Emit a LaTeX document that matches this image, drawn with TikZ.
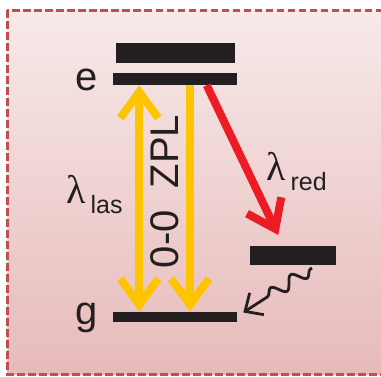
\documentclass[tikz,border=0pt]{standalone}
\usepackage{fontspec}
\setmainfont{Liberation Sans}
\newfontfamily\lamfont{Liberation Serif}
\usetikzlibrary{arrows.meta,decorations.pathmorphing}

\definecolor{bgtop}{RGB}{247,234,233}
\definecolor{bgbot}{RGB}{231,186,186}
\definecolor{framecol}{RGB}{192,80,77}
\definecolor{barink}{RGB}{35,31,32}
\definecolor{ylw}{RGB}{255,196,0}
\definecolor{rd}{RGB}{236,28,36}

\tikzset{
  bar/.style={fill=barink, draw=none, inner sep=0pt},
  big/.style={font=\fontsize{40}{48}\selectfont, inner sep=0pt, text=barink},
  chev/.tip={Straight Barb[length=26pt, width=38pt]},
  beam/.style={line width=8pt},
  panel/.style={draw=framecol, line width=3pt, dash pattern=on 7.5pt off 3.5pt},
  wavy/.style={line width=2.8pt, barink,
    decorate, decoration={snake, amplitude=6pt, segment length=24pt, pre length=2pt, post length=20pt}},
}

\begin{document}
\begin{tikzpicture}[x=1pt, y=-1pt]
\useasboundingbox (0,0) rectangle (381,376);

% background panel with dashed frame
\shade[top color=bgtop, bottom color=bgbot] (7,10) rectangle (392,374);
\draw[panel] (7,10) rectangle (392,374);

% energy levels
\node[bar, minimum width=119.6pt, minimum height=19.4pt] (top) at (175.5,53) {};
\node[bar, minimum width=124pt, minimum height=11.7pt] (e) at (175.3,79.2) {};
\node[bar, minimum width=124pt, minimum height=10pt] (g) at (175.3,316.7) {};
\node[bar, minimum width=85.7pt, minimum height=19.3pt] (side) at (292.9,255.4) {};

% level labels
\node[big, anchor=base] (elab) at (87,90) {e};
\node[big, anchor=base] (glab) at (87,324) {g};

% column positions of the transitions
\coordinate (lx) at (139.3,0);
\coordinate (rx) at (190,0);
\coordinate (redx) at (206.7,0);
\coordinate (redtip) at (278.3,235);
\coordinate (wstart) at (312,268);
\coordinate (wtip) at (243.3,312.5);

% laser excitation and zero-phonon line
\draw[beam, ylw, chev-chev] (e.south -| lx) -- (g.north -| lx);
\draw[beam, ylw, -chev] (e.south -| rx) -- (g.north -| rx);

% red-shifted emission
\draw[beam, rd, -chev] (e.south -| redx) -- (redtip);

% non-radiative relaxation
\draw[wavy, -{Straight Barb[length=14pt, width=26pt]}] (wstart) -- (wtip);

% labels
\node[inner sep=0pt, anchor=base west, text=barink] (las) at (66,203)
  {\fontsize{40}{48}\lamfont λ\hspace{5pt}\raisebox{-10pt}{\fontsize{25}{30}\rmfamily las}};
\node[inner sep=0pt, anchor=base west, text=barink] (red) at (266,180)
  {\fontsize{40}{48}\lamfont λ\hspace{5pt}\raisebox{-10pt}{\fontsize{25}{30}\rmfamily red}};
\node[big, rotate=90] (zpl) at (165,191.5) {0-0\ \ ZPL};
\end{tikzpicture}
\end{document}
